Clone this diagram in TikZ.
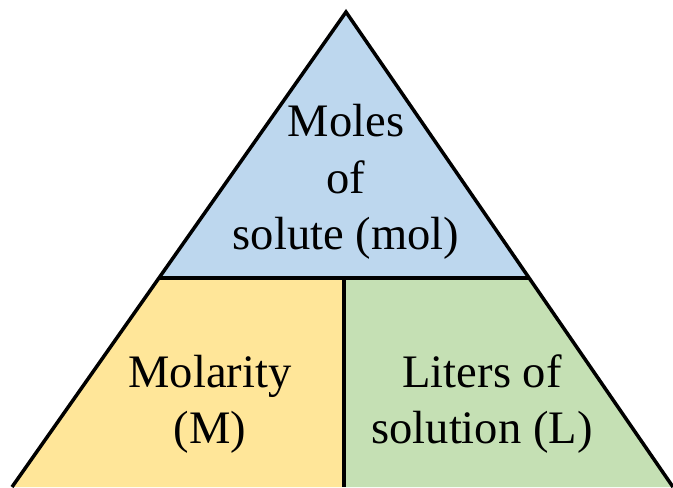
\documentclass[tikz,border=0pt]{standalone}
\usepackage{fontspec}
\setmainfont{Liberation Serif}
\usepackage{xcolor}
\usetikzlibrary{calc}
\definecolor{SoluteBlue}{RGB}{189,215,238}
\definecolor{MolarYellow}{RGB}{255,230,153}
\definecolor{LiterGreen}{RGB}{197,224,180}
\tikzset{
  edgeline/.style={draw=black,line width=2pt,line join=miter},
  partlabel/.style={align=center,font=\fontsize{26.5}{32}\selectfont,inner sep=0pt},
}

\begin{document}
\begin{tikzpicture}[x=0.02cm,y=-0.02cm]
\useasboundingbox (0,0) rectangle (673,487);
\clip (0,0) rectangle (673,487);
% corner points
\coordinate (apex) at (346,12);
\coordinate (bl) at (12,487);
\coordinate (br) at (673,487);
\coordinate (ml) at ($(apex)!0.56!(bl)$);
\coordinate (mr) at ($(apex)!0.56!(br)$);
\coordinate (mb) at (344,487);
\coordinate (mt) at (344,278);
% filled parts
\fill[SoluteBlue] (apex) -- (ml) -- (mr) -- cycle;
\fill[MolarYellow] (ml) -- (mt) -- (mb) -- (bl) -- cycle;
\fill[LiterGreen] (mt) -- (mr) -- (br) -- (mb) -- cycle;
% outline
\draw[edgeline] (bl) -- (apex) -- (br);
\draw[edgeline] (ml) -- (mr);
\draw[edgeline] (mt) -- (mb);
% labels
\node[partlabel] (moles) at (346,182) {Moles\\of\\solute (mol)};
\node[partlabel] (molarity) at (210,404) {Molarity\\(M)};
\node[partlabel] (liters) at (482,404) {Liters of\\solution (L)};
\end{tikzpicture}
\end{document}
